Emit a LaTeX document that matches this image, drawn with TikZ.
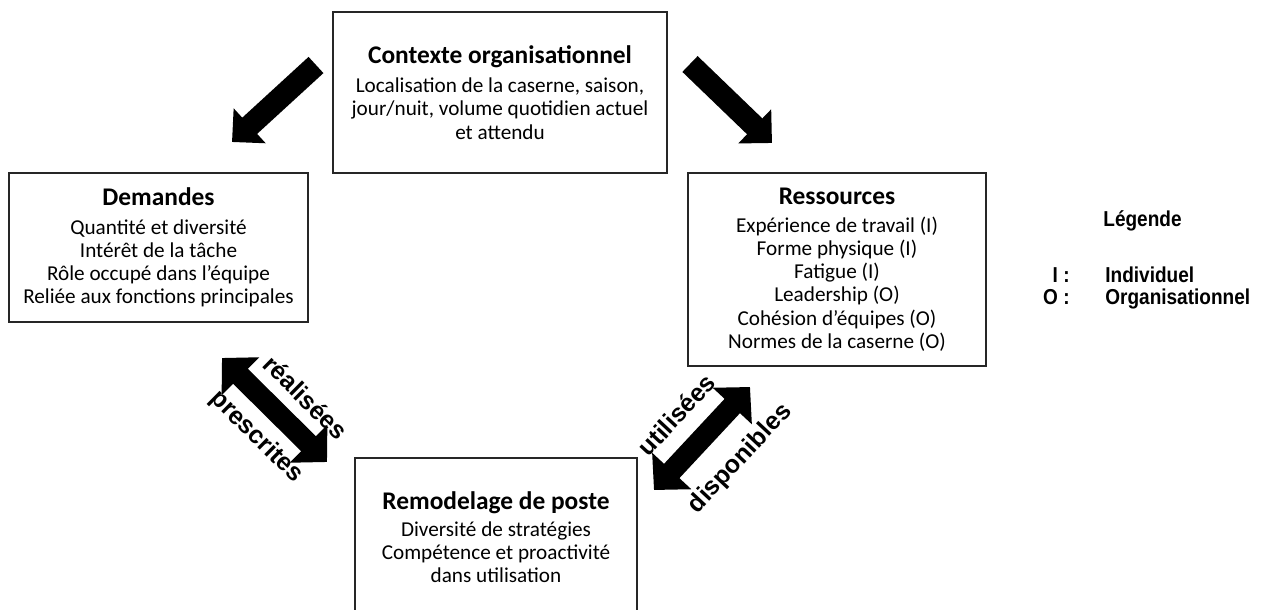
\documentclass[tikz,border=0pt]{standalone}
\usepackage{fontspec}
\setmainfont{Carlito}
\newfontfamily\legfont[FakeStretch=0.88]{Liberation Sans}
\newfontfamily\arrfont{Liberation Sans}
\usetikzlibrary{arrows.meta}
\newcommand{\boxtitle}{\fontsize{12.7}{15}\selectfont\bfseries}

\begin{document}
\begin{tikzpicture}[x=0.5pt, y=-0.5pt,
  box/.style={draw=black!85, line width=0.8pt, inner sep=0pt, align=center, font=\fontsize{10.6}{11.6}\selectfont},
  bigarrow/.style={line width=11pt, -{Triangle[length=12pt, width=23pt]}},
  dblarrow/.style={line width=10.5pt, {Triangle[length=13pt, width=26pt]}-{Triangle[length=13pt, width=26pt]}},
  arrlabel/.style={sloped, inner sep=0pt, font=\arrfont\bfseries\fontsize{12.5}{14}\selectfont},
  legtext/.style={inner sep=0pt, font=\legfont\bfseries\fontsize{10.8}{12}\selectfont}]
\useasboundingbox (0,0) rectangle (1265,610);
\node[box, minimum width=167pt, minimum height=80.5pt] (ctx) at (500,92.5) {{\boxtitle Contexte organisationnel}\\[3pt] Localisation de la caserne, saison,\\ jour/nuit, volume quotidien actuel\\ et attendu};
\node[box, minimum width=149.5pt, minimum height=74.5pt] (dem) at (158.5,247.5) {{\boxtitle Demandes}\\[2.5pt] Quantité et diversité\\ Intérêt de la tâche\\ Rôle occupé dans l’équipe\\ Reliée aux fonctions principales};
\node[box, minimum width=149pt, minimum height=96.5pt] (res) at (837,269.5) {{\boxtitle Ressources}\\[2.5pt] Expérience de travail (I)\\ Forme physique (I)\\ Fatigue (I)\\ Leadership (O)\\ Cohésion d’équipes (O)\\ Normes de la caserne (O)};
\node[box, minimum width=141pt, minimum height=79pt] (rem) at (496,537) {{\boxtitle Remodelage de poste}\\[2pt] Diversité de stratégies\\ Compétence et proactivité\\ dans utilisation};
\coordinate (ctxL) at (316,65);
\coordinate (demT) at (232,142);
\coordinate (ctxR) at (690,64);
\coordinate (resT) at (772,143);
\coordinate (demB) at (222,358);
\coordinate (remL) at (327,462);
\coordinate (remR) at (654,490);
\coordinate (resB) at (750,387);
\draw[bigarrow] (ctxL) -- (demT);
\draw[bigarrow] (ctxR) -- (resT);
\draw[dblarrow] (demB) -- (remL) node[arrlabel, pos=.59, yshift=15.5pt] {réalisées} node[arrlabel, pos=.54, yshift=-16pt] {prescrites};
\draw[dblarrow] (remR) -- (resB) node[arrlabel, pos=.5, yshift=17.5pt] {utilisées} node[arrlabel, pos=.58, yshift=-21pt] {disponibles};
\node[legtext, anchor=base west] (leg) at (1103,227) {Légende};
\node[legtext, anchor=base east] (legI) at (1070,282) {I :};
\node[legtext, anchor=base west] (legIt) at (1105,282) {Individuel};
\node[legtext, anchor=base east] (legO) at (1070,304) {O :};
\node[legtext, anchor=base west] (legOt) at (1105,304) {Organisationnel};
\end{tikzpicture}
\end{document}
